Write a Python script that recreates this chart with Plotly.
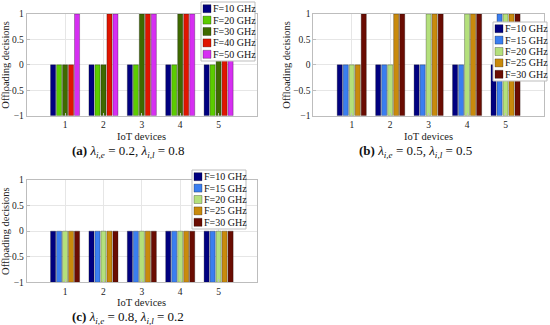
import plotly.graph_objects as go

W, H = 550, 325

devices = [1, 2, 3, 4, 5]

# Panel (a)
names_a = ["F=10 GHz", "F=20 GHz", "F=30 GHz", "F=40 GHz", "F=50 GHz"]
colors_a = ["#000080", "#5CCC00", "#3F6A00", "#E01500", "#D62EF2"]
vals_a = [
    [0, 0, 0, 0, 0],   # F=10
    [0, 0, 0, 0, 0],   # F=20
    [0, 0, 1, 1, 1],   # F=30
    [0, 1, 1, 1, 1],   # F=40
    [1, 1, 1, 1, 1],   # F=50
]

# Panel (b)
names_b = ["F=10 GHz", "F=15 GHz", "F=20 GHz", "F=25 GHz", "F=30 GHz"]
colors_b = ["#000080", "#3A7EF0", "#B4E07C", "#C98A0C", "#6A0C02"]
vals_b = [
    [0, 0, 0, 0, 0],
    [0, 0, 0, 0, 1],
    [0, 0, 1, 1, 1],
    [0, 1, 1, 1, 1],
    [1, 1, 1, 1, 1],
]

# Panel (c)
names_c = names_b
colors_c = colors_b
vals_c = [
    [0, 0, 0, 0, 0],
    [0, 0, 0, 0, 0],
    [0, 0, 0, 0, 0],
    [0, 0, 0, 0, 0],
    [0, 0, 0, 0, 0],
]

y_ticks = [-1, -0.5, 0, 0.5, 1]
baseline = -1
x_title = "IoT devices"
y_title = "Offloading decisions"

NB = "\u00a0"
captions = [
    f"<b>(a)</b>{NB}<i>λ</i><sub><i>i,e</i></sub>{NB}={NB}0.2,{NB}<i>λ</i><sub><i>i,l</i></sub>{NB}={NB}0.8",
    f"<b>(b)</b>{NB}<i>λ</i><sub><i>i,e</i></sub>{NB}={NB}0.5,{NB}<i>λ</i><sub><i>i,l</i></sub>{NB}={NB}0.5",
    f"<b>(c)</b>{NB}<i>λ</i><sub><i>i,e</i></sub>{NB}={NB}0.8,{NB}<i>λ</i><sub><i>i,l</i></sub>{NB}={NB}0.2",
]

FONT = "Liberation Serif"


def px(x):
    return x / W


def py(y):
    return 1 - y / H


# panel boxes in pixels: left, right, top, bottom
panels = [
    (26.7, 257.0, 14.0, 115.7),
    (313.3, 544.0, 14.0, 115.7),
    (26.7, 257.0, 180.0, 282.3),
]
legend_pos = [(201.0, 2.0), (493.0, 22.0), (192.0, 170.0)]
caption_pos = [(128, 152), (415, 152), (128, 317)]

fig = go.Figure()
datasets = [(names_a, colors_a, vals_a), (names_b, colors_b, vals_b), (names_c, colors_c, vals_c)]

shapes = []
annotations = []
for i, (names, colors, vals) in enumerate(datasets):
    sfx = "" if i == 0 else str(i + 1)
    for n, c, v in zip(names, colors, vals):
        fig.add_trace(go.Bar(
            x=devices, y=[val - baseline for val in v], base=baseline,
            name=n, marker=dict(color=c, line=dict(color="rgba(0,0,0,0.55)", width=0.5)),
            xaxis="x" + sfx, yaxis="y" + sfx, showlegend=False,
            offsetgroup=n,
        ))
    l, r, t, b = panels[i]
    axis_common = dict(showline=True, mirror=True, linecolor="#BDBDBD", linewidth=1,
                       showgrid=True, gridcolor="#E6E6E6", gridwidth=1, zeroline=False,
                       ticks="inside", ticklen=3, tickcolor="#BDBDBD", automargin=False,
                       tickfont=dict(family=FONT, size=9.5, color="#222"))
    fig.update_layout(**{
        "xaxis" + sfx: dict(domain=[px(l), px(r)], range=[0, 6], tickvals=devices,
                            anchor="y" + sfx, **axis_common),
        "yaxis" + sfx: dict(domain=[py(b), py(t)], range=[-1, 1], tickvals=y_ticks,
                            anchor="x" + sfx,
                            title=dict(text=y_title, font=dict(family=FONT, size=10.5, color="#222"), standoff=0),
                            **axis_common),
    })
    annotations.append(dict(xref="paper", yref="paper", x=px((l + r) / 2), y=py(b + 20.5),
                            xanchor="center", yanchor="middle", text=x_title, showarrow=False,
                            font=dict(family=FONT, size=10.5, color="#222")))
    # custom compact legend
    lx, ly = legend_pos[i]
    row = 11.4
    bw, bh = 54, row * 5 + 2
    shapes.append(dict(type="rect", xref="paper", yref="paper", x0=px(lx), x1=px(lx + bw),
                       y0=py(ly), y1=py(ly + bh), fillcolor="white",
                       line=dict(color="#BDBDBD", width=1), layer="above"))
    for k, (n, c) in enumerate(zip(names, colors)):
        yc = ly + 1 + row * k + row / 2
        shapes.append(dict(type="rect", xref="paper", yref="paper",
                           x0=px(lx + 2), x1=px(lx + 10), y0=py(yc - 4), y1=py(yc + 4),
                           fillcolor=c, line=dict(color="rgba(0,0,0,0.55)", width=0.5), layer="above"))
        annotations.append(dict(xref="paper", yref="paper", x=px(lx + 10), y=py(yc),
                                xanchor="left", yanchor="middle", text=n, showarrow=False,
                                font=dict(family=FONT, size=10, color="#111")))
    cx, cy = caption_pos[i]
    annotations.append(dict(xref="paper", yref="paper", x=px(cx), y=py(cy),
                            xanchor="center", yanchor="middle", text=captions[i], showarrow=False,
                            font=dict(family=FONT, size=13, color="#111")))

fig.update_layout(
    width=W, height=H, margin=dict(l=0, r=0, t=0, b=0, autoexpand=False),
    paper_bgcolor="white", plot_bgcolor="white",
    barmode="group", bargap=0.22, bargroupgap=0.15,
    shapes=shapes, annotations=annotations, showlegend=False,
    font=dict(family=FONT),
)

fig.write_html("out.html", config={"displayModeBar": False},
               post_script="document.body.style.margin='0';document.body.style.overflow='hidden';")
